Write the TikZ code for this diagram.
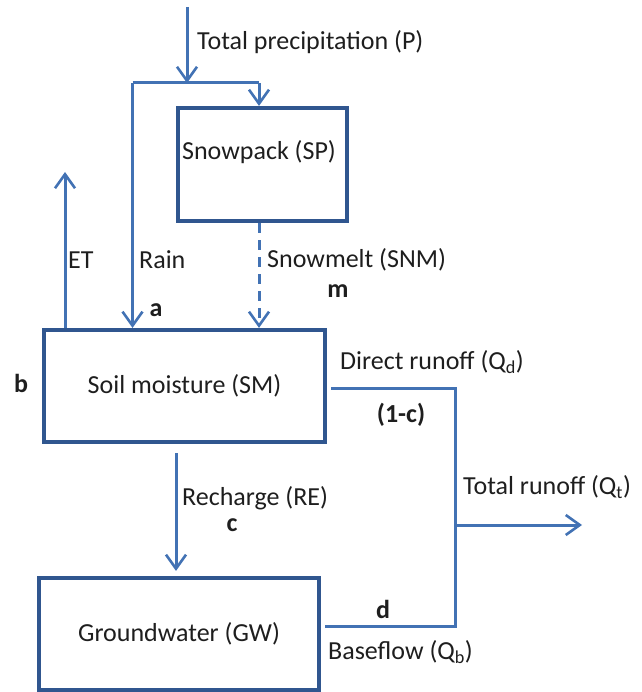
\documentclass[tikz,border=0pt]{standalone}
\usepackage{fontspec}
\setmainfont{Carlito}
\usepackage{xcolor}
\usetikzlibrary{arrows.meta}
\definecolor{flowblue}{HTML}{4272B4}
\definecolor{boxblue}{HTML}{30568F}
\definecolor{txtgray}{HTML}{1E1E1E}

\begin{document}
\begin{tikzpicture}[x=1pt, y=-1pt, every node/.style={inner sep=0pt, text=txtgray,
        font=\fontsize{26}{30}\selectfont},
        store/.style={draw=boxblue, line width=4.2pt, minimum width=#1, minimum height=112pt},
        flow/.style={draw=flowblue, line width=3pt,
        -{Straight Barb[length=14pt, width=20pt, line width=2.6pt]}},
        pipe/.style={draw=flowblue, line width=3pt},
        coef/.style={font=\bfseries\fontsize{26}{30}\selectfont}]
    \useasboundingbox (0,0) rectangle (641,692);
        \node[store=169pt, minimum height=113pt] (sp) at (262.5,164.5) {};
        \node (sptext) at (259,152) {Snowpack (SP)};
        \node[store=281pt] (sm) at (184.5,386) {Soil moisture (SM)};
        \node[store=280pt] (gw) at (179,634) {Groundwater (GW)};
        \coordinate (ptop) at (187,7);
        \coordinate (split) at (187,83);
        \coordinate (rainleft) at (132.5,83);
        \coordinate (snowright) at (259,83);
        \coordinate (ettop) at (65,172);
        \coordinate (qdjoin) at (455,388);
        \coordinate (qtjoin) at (455,525);
        \coordinate (qbjoin) at (455,626);
        \coordinate (qtout) at (582,525);
        \draw[flow] (ptop) -- (split);
        \draw[pipe] (rainleft) -- (snowright);
        \draw[flow] (snowright) -- (snowright |- sp.north);
        \draw[flow] (rainleft) -- (rainleft |- sm.north);
        \draw[flow] (sm.north -| ettop) -- (ettop);
        \draw[flow, dash pattern=on 10pt off 7pt] (sp.south -| snowright) 
        -- (snowright |- sm.north);
        \draw[pipe] ([xshift=4pt]sm.east |- qdjoin) -- (qdjoin) -- (qbjoin) 
        -- ([xshift=4pt]gw.east |- qbjoin);
        \draw[flow] (qtjoin) -- (qtout);
        \draw[flow] ([shift={(-8.5,9)}]sm.south) -- ([shift={(-3,-5)}]gw.north);
        \node[anchor=west] (ptext) at (197,42) {Total precipitation (P)};
        \node[anchor=west] (ettext) at (68,260) {ET};
        \node[anchor=west] (raintext) at (139,260) {Rain};
        \node[anchor=west] (snmtext) at (267,260) {Snowmelt (SNM)};
        \node[anchor=west] (qdtext) at (340,362) {Direct runoff (Q\textsubscript{d})};
        \node[anchor=west] (qttext) at (463,487) {Total runoff (Q\textsubscript{t})};
        \node[anchor=west] (retext) at (182,498) {Recharge (RE)};
        \node[anchor=west] (qbtext) at (328,652) {Baseflow (Q\textsubscript{b})};
        \node[coef] (m) at (338,291) {m};
        \node[coef] (a) at (156,310) {a};
        \node[coef] (b) at (21,383) {b};
        \node[coef] (onec) at (401,415) {(1-c)};
        \node[coef] (c) at (232,525) {c};
        \node[coef] (d) at (383,609) {d};
    \end{tikzpicture}
\end{document}
